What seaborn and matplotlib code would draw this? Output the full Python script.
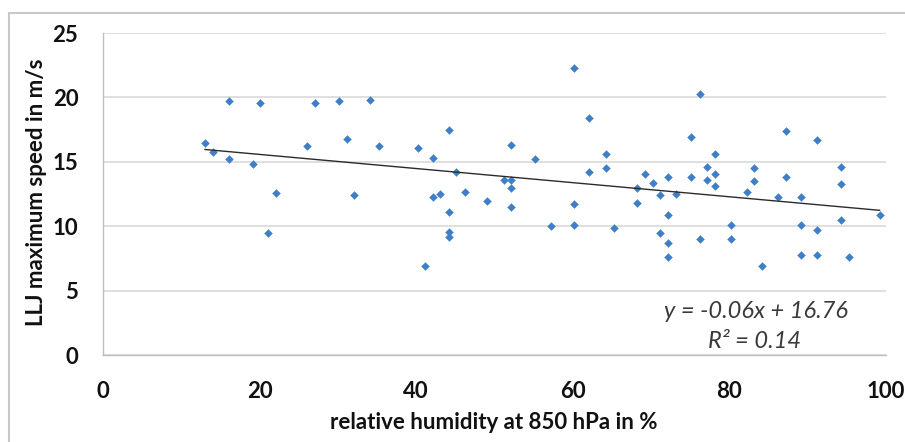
import numpy as np
import pandas as pd
import matplotlib
matplotlib.use("Agg")
import matplotlib.pyplot as plt
import seaborn as sns
from matplotlib.patches import Rectangle

humidity = [13.0, 14.1, 16.1, 16.1, 20.0, 19.1, 22.1, 21.1, 27.1, 26.1, 30.1, 31.1, 32.1,
            34.1, 35.2, 40.2, 42.1, 42.1, 43.1, 44.2, 44.2, 44.2, 44.2, 41.1, 45.1, 46.2,
            49.1, 51.2, 52.1, 52.1, 52.1, 52.1, 55.2, 57.2, 60.1, 60.1, 60.1, 62.1, 62.1,
            64.2, 64.2, 65.2, 68.2, 68.2, 69.2, 70.2, 71.1, 71.1, 72.2, 72.2, 72.2, 72.2,
            73.2, 75.1, 75.1, 76.2, 76.2, 77.2, 77.2, 78.2, 78.2, 78.2, 80.2, 80.2, 82.2,
            83.2, 83.2, 84.2, 86.2, 87.2, 87.2, 89.2, 89.2, 89.2, 91.2, 91.2, 91.2, 94.2,
            94.2, 94.2, 95.3, 99.2]
speed = [16.5, 15.8, 19.7, 15.2, 19.6, 14.8, 12.6, 9.5, 19.6, 16.2, 19.7, 16.8, 12.4,
         19.8, 16.2, 16.1, 15.3, 12.3, 12.5, 17.5, 11.1, 9.6, 9.2, 6.9, 14.2, 12.7,
         12.0, 13.6, 13.6, 16.3, 13.0, 11.5, 15.2, 10.0, 22.3, 11.7, 10.1, 18.4, 14.2,
         15.6, 14.5, 9.9, 13.0, 11.8, 14.1, 13.4, 12.4, 9.5, 13.8, 10.9, 8.7, 7.6,
         12.5, 16.9, 13.8, 20.3, 9.0, 14.6, 13.6, 15.6, 14.1, 13.1, 10.1, 9.0, 12.7,
         14.5, 13.5, 6.9, 12.3, 17.4, 13.8, 12.3, 10.1, 7.8, 16.7, 9.7, 7.8, 14.6,
         13.3, 10.5, 7.6, 10.9]
x_ticks = [0, 20, 40, 60, 80, 100]
y_ticks = [0, 5, 10, 15, 20, 25]
x_label = "relative humidity at 850 hPa in %"
y_label = "LLJ maximum speed in m/s"
eq_text = "y = -0.06x + 16.76"
r2_text = "R² = 0.14"

df = pd.DataFrame({"rh": humidity, "spd": speed})

sns.set_style("white")
plt.rcParams["font.family"] = ["Lato", "DejaVu Sans"]

W, H = 905, 442
x0, x1, ytop, ybot = 103, 886, 33, 355.3
fig = plt.figure(figsize=(W/100, H/100), dpi=100)
ax = fig.add_axes([x0/W, 1-ybot/H, (x1-x0)/W, (ybot-ytop)/H])

grid_c = "#d9d9d9"
for yv in y_ticks:
    ax.axhline(yv, color=grid_c, lw=1.2, zorder=0)

sns.scatterplot(data=df, x="rh", y="spd", marker="D", s=16, color="#3f7fc8",
                edgecolor="#3f7fc8", linewidth=0.3, ax=ax, zorder=3)
sns.regplot(data=df, x="rh", y="spd", scatter=False, ci=None, ax=ax,
            line_kws=dict(color="#2b2b2b", lw=1.0, zorder=4))

ax.set_xlim(0, 100)
ax.set_ylim(0, 25)
ax.set_xticks(x_ticks)
ax.set_yticks(y_ticks)
tick_fs = 16
ax.set_xticklabels([str(v) for v in x_ticks], fontsize=tick_fs, fontweight="bold", color="#111111")
ax.set_yticklabels([str(v) for v in y_ticks], fontsize=tick_fs, fontweight="bold", color="#111111")
ax.tick_params(axis="both", length=5.8, width=1.0, color="#bfbfbf")
ax.tick_params(axis="y", pad=12)
ax.tick_params(axis="x", pad=13)

for s in ["top", "right"]:
    ax.spines[s].set_visible(False)
for s in ["left", "bottom"]:
    ax.spines[s].set_color("#bfbfbf")
    ax.spines[s].set_linewidth(1.0)

ax.set_xlabel(x_label, fontsize=16, fontweight="bold", color="#111111")
ax.set_ylabel(y_label, fontsize=16, fontweight="bold", color="#111111")
ax.xaxis.set_label_coords(0.5 + (494 - (x0+x1)/2)/(x1-x0), (ybot-412)/(ybot-ytop))
ax.yaxis.set_label_coords((47-x0)/(x1-x0), (ybot-192)/(ybot-ytop))

ax.text(83.4, 3.4, eq_text, ha="center", va="center", fontsize=17, style="italic", color="#3a3a3a")
ax.text(83.2, 1.05, r2_text, ha="center", va="center", fontsize=17, style="italic", color="#3a3a3a")

frame = Rectangle((9/W, -0.5), 1.5, 1 - 13/H + 0.5, transform=fig.transFigure,
                  fill=False, edgecolor="#c8c8c8", lw=1.5, zorder=0)
fig.patches.append(frame)

fig.savefig("out.png", dpi=100)
